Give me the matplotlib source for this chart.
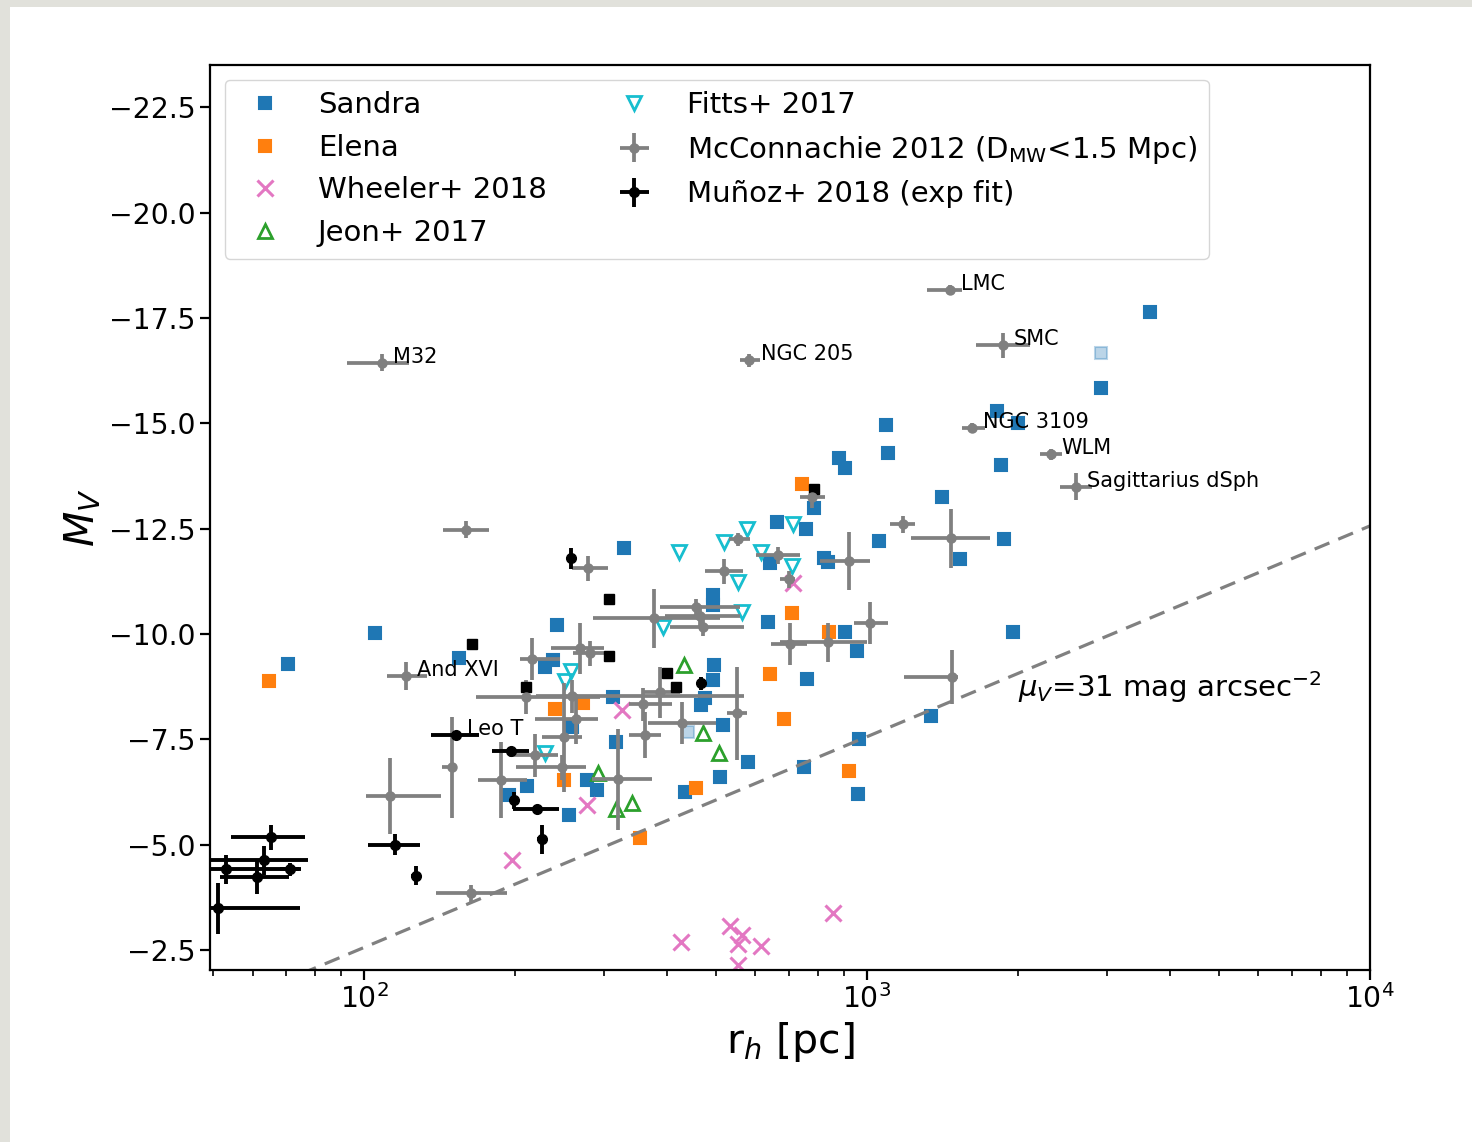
import numpy as np
import matplotlib
matplotlib.use("Agg")
import matplotlib.pyplot as plt
from matplotlib.patches import Rectangle

# ---------------- data (r_h in pc, M_V in mag) ----------------
sandra_r = [3649, 2915, 1810, 1993, 1089, 1099, 878, 906, 1844, 1407, 786, 755, 663,
            1054, 1869, 640, 1528, 823, 835, 328, 493, 493, 242, 634, 105, 70.6, 154.5,
            229, 237, 902, 953, 758, 497, 493, 477, 468, 312, 259, 516, 317, 581, 511,
            434, 748, 966, 1338, 958, 1948, 277, 291, 194, 211, 256]
sandra_M = [-17.63, -15.83, -15.28, -15.00, -14.95, -14.29, -14.17, -13.93, -14.00, -13.24,
            -12.98, -12.49, -12.65, -12.20, -12.25, -11.68, -11.77, -11.80, -11.70, -12.04,
            -10.92, -10.68, -10.21, -10.28, -10.02, -9.28, -9.43, -9.21, -9.38, -10.04,
            -9.59, -8.93, -9.26, -8.90, -8.48, -8.31, -8.50, -7.79, -7.84, -7.43, -6.96,
            -6.60, -6.25, -6.84, -7.50, -8.05, -6.20, -10.04, -6.53, -6.29, -6.18, -6.39, -5.70]
sandra_faint_r = [2915, 441.5]
sandra_faint_M = [-16.66, -7.67]

elena_r = [64.7, 744, 708, 842, 640, 685, 919, 456, 353, 240, 272, 250]
elena_M = [-8.88, -13.55, -10.49, -10.04, -9.05, -7.98, -6.75, -6.34, -5.16, -8.22, -8.36, -6.53]

wheeler_r = [711, 326, 277, 197, 854, 535, 426, 565, 555, 614, 555]
wheeler_M = [-11.20, -8.19, -5.94, -4.63, -3.38, -3.07, -2.69, -2.86, -2.64, -2.60, -2.14]

jeon_r = [433.5, 472.6, 508.8, 292.2, 317.4, 341.6]
jeon_M = [-9.26, -7.65, -7.17, -6.70, -5.85, -5.99]

fitts_r = [423.6, 520.5, 578.3, 710.9, 616.6, 707.7, 555, 565.2, 393.6, 258.2, 251.2, 229.2]
fitts_M = [-11.94, -12.18, -12.49, -12.60, -11.94, -11.61, -11.23, -10.52, -10.16, -9.12, -8.88, -7.19]

# McConnachie 2012: r_h, M_V, r_h lower err, r_h upper err, M_V err, name
mc_r = [108.6, 583.7, 1459, 1861, 1614, 2318, 2600, 121.2, 159.6, 1177, 1466, 919, 1012,
        835, 704, 776, 555, 520.5, 666.5, 698, 1473, 279, 377, 457.8, 465.1, 472, 268.1,
        280.7, 216, 259.4, 210.1, 359.1, 388, 429.6, 362.4, 552.4, 264.3, 250, 247.7, 219,
        187.2, 149.7, 320.3, 112.6, 163.3]
mc_M = [-16.44, -16.49, -18.16, -16.85, -14.88, -14.26, -13.50, -9.00, -12.48, -12.60,
        -12.27, -11.73, -10.26, -9.80, -9.76, -13.25, -12.25, -11.49, -11.87, -11.30, -8.98,
        -11.56, -10.37, -10.63, -10.44, -10.16, -9.66, -9.54, -9.40, -8.52, -8.50, -8.33,
        -8.62, -7.88, -7.60, -8.12, -7.98, -7.55, -6.84, -7.12, -6.53, -6.84, -6.55, -6.16, -3.85]
mc_rlo = [16.1, 25, 146, 217, 72, 114, 184, 10.1, 16, 68, 245, 112, 68, 164, 59, 40, 23, 45,
          64, 27, 291, 20, 92, 71, 69, 67, 33, 20, 12, 40, 43, 22.5, 28, 63, 26, 25, 46, 24,
          47, 25, 18.5, 6.7, 36, 11.7, 24]
mc_rhi = [14.3, 29, 83, 245, 99, 120, 198, 12.3, 17.8, 66, 286, 93, 87, 165, 57, 48, 29, 45,
          69, 21, 41, 27, 133, 101, 94, 98, 32, 20, 29, 310, 84, 50, 36, 71, 27, 26, 27, 21,
          29, 24.5, 24, 3.2, 54, 29.7, 29]
mc_Merr = [0.2, 0.15, 0.12, 0.3, 0.12, 0.12, 0.33, 0.33, 0.2, 0.2, 0.7, 0.68, 0.5, 0.46,
           0.5, 0.25, 0.15, 0.3, 0.2, 0.2, 0.65, 0.3, 0.7, 0.2, 0.25, 0.2, 0.6, 0.3, 0.5,
           0.4, 0.4, 0.4, 0.6, 0.5, 0.55, 1.1, 0.6, 1.3, 0.3, 0.5, 0.9, 1.2, 1.2, 0.9, 0.2]
mc_names = {0: "M32", 1: "NGC 205", 2: "LMC", 3: "SMC", 4: "NGC 3109", 5: "WLM",
            6: "Sagittarius dSph", 7: "And XVI"}

# Munoz+ 2018 (exp fit)
mu_r = [152.4, 196.1, 198.8, 221, 226.1, 258, 65.3, 63.2, 53.2, 71.2, 61.2, 51.2, 115.3, 126.9, 468.3]
mu_M = [-7.60, -7.22, -6.06, -5.84, -5.13, -11.80, -5.18, -4.63, -4.42, -4.42, -4.23, -3.49, -5.00, -4.27, -8.83]
mu_rerr = [16.5, 16.6, 3, 23.5, 5, 4, 11, 14.3, 21.7, 3, 9.6, 23.4, 13.7, 3, 4]
mu_Merr = [0.1, 0.1, 0.2, 0.1, 0.35, 0.25, 0.3, 0.35, 0.35, 0.15, 0.4, 0.6, 0.25, 0.22, 0.15]
mu_names = {0: "Leo T"}
mu_sq_r = [164, 307.4, 307.4, 210.1, 400.9, 417.8, 782.7]
mu_sq_M = [-9.76, -10.82, -9.47, -8.74, -9.07, -8.74, -13.45]

mu_limit = 31.0  # mag arcsec^-2

# ---------------- figure ----------------
fig = plt.figure(figsize=(14.72, 11.42), dpi=100)
fig.patch.set_facecolor('#e1e1db')
fig.patches.append(Rectangle((10 / 1472, 0), 1, 1 - 7 / 1142, transform=fig.transFigure,
                             facecolor='white', edgecolor='none', zorder=-10))
ax = fig.add_axes([0.1427, 0.1506, 0.788, 0.7925])

ms_sq = 9.0
ax.plot(sandra_r, sandra_M, 's', color='C0', ms=ms_sq, mew=1.5, label='Sandra')
ax.plot(sandra_faint_r, sandra_faint_M, 's', color='C0', alpha=0.3, ms=ms_sq, mew=1.5)
ax.plot(elena_r, elena_M, 's', color='C1', ms=ms_sq, mew=1.5, label='Elena')
ax.plot(wheeler_r, wheeler_M, 'x', color='C6', ms=11, mew=2.2, label='Wheeler+ 2018')
ax.plot(jeon_r, jeon_M, '^', color='C2', mfc='none', ms=10, mew=2.0, label='Jeon+ 2017')
ax.plot(fitts_r, fitts_M, 'v', color='C9', mfc='none', ms=10, mew=2.0, label='Fitts+ 2017')

ax.errorbar(mc_r, mc_M, xerr=[mc_rlo, mc_rhi], yerr=mc_Merr, fmt='o', color='gray',
            ms=6.5, elinewidth=2.7, capsize=0, label=r'McConnachie 2012 (D$_{\rm MW}$<1.5 Mpc)')
for i, name in mc_names.items():
    ax.annotate(name, (mc_r[i], mc_M[i]), xytext=(8, 0), textcoords='offset points',
                fontsize=15, va='baseline')

ax.errorbar(mu_r, mu_M, xerr=mu_rerr, yerr=mu_Merr, fmt='o', color='k', ms=7,
            elinewidth=2.8, capsize=0, label='Muñoz+ 2018 (exp fit)')
ax.plot(mu_sq_r, mu_sq_M, 's', color='k', ms=7.5)
for i, name in mu_names.items():
    ax.annotate(name, (mu_r[i], mu_M[i]), xytext=(8, 0), textcoords='offset points',
                fontsize=15, va='baseline')

# constant surface brightness line
rr = np.logspace(1.5, 4.2, 200)
MM = mu_limit - 36.57 - 2.5 * np.log10(2 * np.pi * (rr / 1000.0) ** 2)
ax.plot(rr, MM, '--', color='gray', lw=2.3, dashes=(5, 3))
ax.text(2000, -8.5, r'$\mu_V$=31 mag arcsec$^{-2}$', fontsize=21, va='baseline')

ax.set_xscale('log')
ax.set_xlim(49.4, 1e4)
ax.set_ylim(-2.03, -23.5)
ax.set_yticks([-22.5, -20.0, -17.5, -15.0, -12.5, -10.0, -7.5, -5.0, -2.5])
ax.set_xlabel(r'r$_h$ [pc]', fontsize=29.5)
ax.set_ylabel(r'$M_V$', fontsize=29.5)
ax.tick_params(axis='both', which='major', labelsize=20.3, length=7, width=1.6)
ax.tick_params(axis='both', which='minor', length=4, width=1.2)
for s in ax.spines.values():
    s.set_linewidth(1.6)

ax.legend(ncol=2, loc='upper left', fontsize=21)

fig.savefig('out.png', dpi=100, facecolor=fig.get_facecolor())
